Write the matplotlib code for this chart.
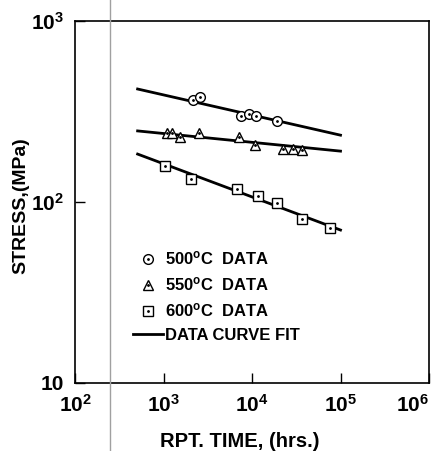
import numpy as np
import matplotlib
matplotlib.use('Agg')
import matplotlib.pyplot as plt
from matplotlib.lines import Line2D

plt.rcParams['font.family'] = 'Liberation Sans'
plt.rcParams['font.weight'] = 'bold'
plt.rcParams['mathtext.fontset'] = 'custom'
plt.rcParams['mathtext.rm'] = 'Liberation Sans:bold'
plt.rcParams['mathtext.bf'] = 'Liberation Sans:bold'
plt.rcParams['mathtext.default'] = 'bf'

# rupture data
t_500 = [2150, 2580, 7500, 9250, 11100, 19100]
s_500 = [366, 380, 298, 306, 298, 280]

t_550 = [1100, 1250, 1530, 2520, 7130, 10800, 22400, 29000, 36700]
s_550 = [240, 240, 229, 240, 229, 206, 196, 196, 194]

t_600 = [1040, 2050, 6780, 11700, 19100, 36700, 76000]
s_600 = [158, 134, 118, 108, 98.6, 80.5, 71.8]

# curve fit end points
fit_t = [510, 1.0e5]
fit_500 = [421, 234]
fit_550 = [247, 191]
fit_600 = [184, 70]

xticks = [1e2, 1e3, 1e4, 1e5, 1e6]
xlabels = ['$10^{2}$', '$10^{3}$', '$10^{4}$', '$10^{5}$', '$10^{6}$']
yticks = [10, 100, 1000]
ylabels = ['10', '$10^{2}$', '$10^{3}$']

fig = plt.figure(figsize=(4.42, 4.51), dpi=100)
ax = fig.add_axes([75/442, 68/451, 354/442, 362/451])

for s in [fit_500, fit_550, fit_600]:
    ax.plot(fit_t, s, color='black', lw=2.0)

mk = dict(mfc='white', mec='black', mew=1.0, ls='none', ms=7)
dot = dict(color='black', ls='none', marker='.', ms=2)
h1 = ax.plot(t_500, s_500, marker='o', **mk)[0]
d1 = ax.plot(t_500, s_500, **dot)[0]
h2 = ax.plot(t_550, s_550, marker='^', **mk)[0]
d2 = ax.plot(t_550, s_550, **dot)[0]
h3 = ax.plot(t_600, s_600, marker='s', **mk)[0]
d3 = ax.plot(t_600, s_600, **dot)[0]

ax.set_xscale('log')
ax.set_yscale('log')
ax.set_xlim(1e2, 1e6)
ax.set_ylim(10, 1000)
ax.set_xticks(xticks)
ax.set_xticklabels(xlabels)
ax.set_yticks(yticks)
ax.set_yticklabels(ylabels)
ax.minorticks_off()
ax.tick_params(direction='in', length=7, width=1, labelsize=15, pad=8)
ax.get_xticklabels()[-1].set_ha('right')
for sp in ax.spines.values():
    sp.set_linewidth(1.2)

ax.set_xlabel('RPT. TIME, (hrs.)', fontsize=14.5, fontweight='bold')
ax.xaxis.set_label_coords(0.466, -0.135)
ax.set_ylabel('STRESS,(MPa)', fontsize=14, fontweight='bold')
ax.yaxis.set_label_coords(-0.13, 0.49)

fit_handle = Line2D([], [], color='black', lw=2.0)
leg = ax.legend([(h1, d1), (h2, d2), (h3, d3), fit_handle],
                ['500$^{o}$C  DATA', '550$^{o}$C  DATA', '600$^{o}$C  DATA', 'DATA CURVE FIT'],
                loc='upper left', bbox_to_anchor=(0.164, 0.368), frameon=False,
                fontsize=12, handlelength=1.8, handletextpad=0.1, labelspacing=0.48,
                borderpad=0, borderaxespad=0)

# scan artefact line
fig.add_artist(Line2D([110/442, 110/442], [0, 1], color='#a0a0a0', lw=1.0))

fig.savefig('out.png', dpi=100)
